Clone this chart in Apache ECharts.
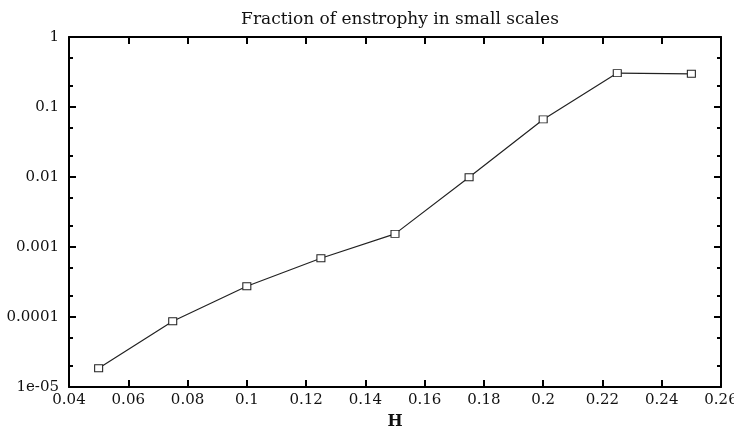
<!DOCTYPE html>
<html><head><meta charset="utf-8">
<script src="https://cdn.jsdelivr.net/npm/echarts@6/dist/echarts.min.js"></script>
<style>html,body{margin:0;padding:0;background:#fff}#c{width:734px;height:430px}</style>
</head><body><div id="c"></div>
<script>
const hValues = [0.05, 0.075, 0.1, 0.125, 0.15, 0.175, 0.2, 0.225, 0.25];
const fraction = [1.85e-5, 8.7e-5, 2.75e-4, 6.9e-4, 1.54e-3, 9.9e-3, 0.0665, 0.305, 0.298];
const yMajorTicks = [1e-5, 1e-4, 1e-3, 1e-2, 1e-1, 1];
const yTickLabels = ['1e-05', '0.0001', '0.001', '0.01', '0.1', '1'];
const yMinorTicks = [2e-5, 5e-5, 2e-4, 5e-4, 2e-3, 5e-3, 2e-2, 5e-2, 0.2, 0.5];

const font = 'DejaVu Serif';
const chart = echarts.init(document.getElementById('c'));
const baseY = {
  type: 'log', min: 1e-5, max: 1, logBase: 10,
  splitLine: {show: false}, minorTick: {show: false}
};
const yAxes = [
  Object.assign({}, baseY, {
    position: 'left',
    axisLine: {show: true, lineStyle: {color: '#000', width: 2}},
    axisTick: {show: true, inside: true, length: 7, lineStyle: {color: '#000', width: 2}, customValues: yMajorTicks},
    axisLabel: {show: true, customValues: yMajorTicks, color: '#111', fontFamily: font, fontSize: 15, margin: 10,
      formatter: v => { const i = yMajorTicks.findIndex(t => Math.abs(Math.log10(t) - Math.log10(v)) < 1e-6); return i >= 0 ? yTickLabels[i] : ''; }}
  }),
  Object.assign({}, baseY, {
    position: 'left',
    axisLine: {show: false},
    axisTick: {show: true, inside: true, length: 4, lineStyle: {color: '#000', width: 2}, customValues: yMinorTicks},
    axisLabel: {show: false}
  }),
  Object.assign({}, baseY, {
    position: 'right',
    axisLine: {show: true, lineStyle: {color: '#000', width: 2}},
    axisTick: {show: true, inside: true, length: 7, lineStyle: {color: '#000', width: 2}, customValues: yMajorTicks},
    axisLabel: {show: false}
  }),
  Object.assign({}, baseY, {
    position: 'right',
    axisLine: {show: false},
    axisTick: {show: true, inside: true, length: 4, lineStyle: {color: '#000', width: 2}, customValues: yMinorTicks},
    axisLabel: {show: false}
  })
];
const baseX = {type: 'value', min: 0.04, max: 0.26, interval: 0.02, splitLine: {show: false}};
const option = {
  animation: false,
  backgroundColor: '#fff',
  title: {
    text: 'Fraction of enstrophy in small scales',
    left: 395, top: 6, textAlign: 'center',
    textStyle: {fontFamily: font, fontSize: 17, fontWeight: 'normal', color: '#111'}
  },
  grid: {left: 69, right: 13, top: 37, bottom: 43, containLabel: false, outerBoundsMode: 'none'},
  xAxis: [
    Object.assign({}, baseX, {
      position: 'bottom',
      name: 'H', nameLocation: 'middle', nameGap: 27,
      nameTextStyle: {fontFamily: font, fontSize: 16, fontWeight: 'bold', color: '#111'},
      axisLine: {show: true, lineStyle: {color: '#000', width: 2}},
      axisTick: {show: true, inside: true, length: 7, lineStyle: {color: '#000', width: 2}},
      axisLabel: {show: true, color: '#111', fontFamily: font, fontSize: 15, margin: 6,
        formatter: v => String(parseFloat(v.toFixed(2)))}
    }),
    Object.assign({}, baseX, {
      position: 'top',
      axisLine: {show: true, lineStyle: {color: '#000', width: 2}},
      axisTick: {show: true, inside: true, length: 7, lineStyle: {color: '#000', width: 2}},
      axisLabel: {show: false}
    })
  ],
  yAxis: yAxes,
  series: [{
    type: 'line',
    xAxisIndex: 0, yAxisIndex: 0,
    data: hValues.map((h, i) => [h, fraction[i]]),
    symbol: 'rect', symbolSize: [8, 7], showAllSymbol: true,
    lineStyle: {color: '#222', width: 1.2},
    itemStyle: {color: '#fff', borderColor: '#222', borderWidth: 1}
  }]
};
chart.setOption(option);
</script></body></html>
